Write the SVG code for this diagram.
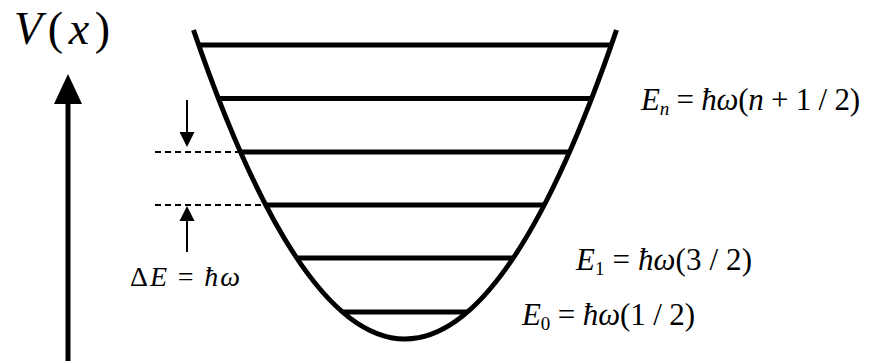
<svg xmlns="http://www.w3.org/2000/svg" width="878" height="361" viewBox="0 0 878 361">
<style>
.thick{stroke:#000;stroke-width:5;fill:none}
.lvl{stroke:#000;stroke-width:5}
.dash{stroke:#000;stroke-width:2;stroke-dasharray:6 4}
.thin{stroke:#000;stroke-width:2}
.i{font-style:italic}
.f{font-family:Liberation Serif, Tinos, Times New Roman, DejaVu Serif, serif}
</style>
<rect width="878" height="361" fill="#fff"/>
<g id="axis">
<line x1="68" y1="361" x2="68" y2="100" class="thick"/>
<polygon points="68,74 54,104 82,104" fill="#000"/>
<text x="14" y="44" font-size="46" class="f" textLength="96" lengthAdjust="spacing"><tspan class="i">V</tspan>(<tspan class="i">x</tspan>)</text>
</g>
<g id="well">
<path d="M193.5,30 Q405,648 616.5,30" class="thick"/>
</g>
<g id="levels">
<line x1="198.7" y1="45" x2="611.3" y2="45" class="lvl"/>
<line x1="218.4" y1="98.5" x2="591.6" y2="98.5" class="lvl"/>
<line x1="240.5" y1="152" x2="569.5" y2="152" class="lvl"/>
<line x1="265.7" y1="205" x2="544.3" y2="205" class="lvl"/>
<line x1="296.7" y1="258" x2="513.3" y2="258" class="lvl"/>
<line x1="342.5" y1="312" x2="467.5" y2="312" class="lvl"/>
</g>
<g id="spacing">
<line x1="155" y1="152" x2="240" y2="152" class="dash"/>
<line x1="155" y1="205" x2="265" y2="205" class="dash"/>
<line x1="187" y1="100" x2="187" y2="134" class="thin"/>
<polygon points="187,147 179.5,132 194.5,132" fill="#000"/>
<line x1="187" y1="252" x2="187" y2="218" class="thin"/>
<polygon points="187,206 179.5,221 194.5,221" fill="#000"/>
<text x="130" y="286" font-size="28" class="f" textLength="110" lengthAdjust="spacing">Δ<tspan class="i">E</tspan> = <tspan class="i">ħω</tspan></text>
</g>
<g id="labels" class="f">
<text x="641" y="110" font-size="31" textLength="219" lengthAdjust="spacing"><tspan class="i">E</tspan><tspan class="i" font-size="19" dy="5">n</tspan><tspan dy="-5"> = </tspan><tspan class="i">ħω</tspan>(<tspan class="i">n</tspan> + 1 / 2)</text>
<text x="576" y="270" font-size="31" textLength="176" lengthAdjust="spacing"><tspan class="i">E</tspan><tspan font-size="19" dy="5">1</tspan><tspan dy="-5"> = </tspan><tspan class="i">ħω</tspan>(3 / 2)</text>
<text x="522" y="325" font-size="31" textLength="173" lengthAdjust="spacing"><tspan class="i">E</tspan><tspan font-size="19" dy="5">0</tspan><tspan dy="-5"> = </tspan><tspan class="i">ħω</tspan>(1 / 2)</text>
</g>
</svg>
